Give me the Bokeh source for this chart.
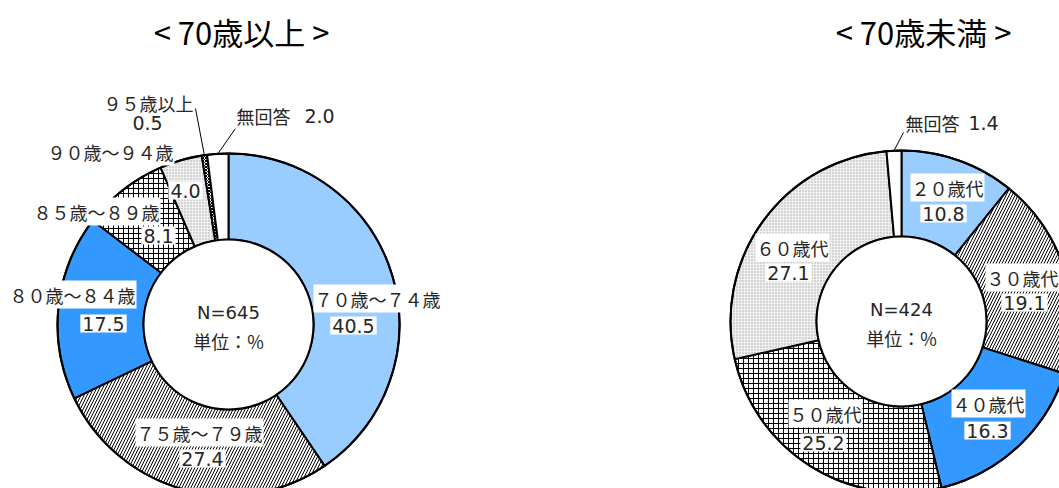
import math
from bokeh.plotting import figure
from bokeh.models import Range1d
from bokeh.core.properties import value
from bokeh.embed import file_html
from bokeh.resources import INLINE

# ---------------- data ----------------
left_title = "< 70歳以上 >"
left_n = "N=645"
left_labels = ["７０歳～７４歳", "７５歳～７９歳", "８０歳～８４歳", "８５歳～８９歳",
               "９０歳～９４歳", "９５歳以上", "無回答"]
left_values = [40.5, 27.4, 17.5, 8.1, 4.0, 0.5, 2.0]

right_title = "< 70歳未満 >"
right_n = "N=424"
right_labels = ["２０歳代", "３０歳代", "４０歳代", "５０歳代", "６０歳代", "無回答"]
right_values = [10.8, 19.1, 16.3, 25.2, 27.1, 1.4]

unit_text = "単位：%"

# ---------------- layout / styles ----------------
W, H = 1059, 488
FONT = "Noto Sans CJK JP"
NUMFONT = "DejaVu Sans"
R_OUT, R_IN = 171, 85
TXT = "#262626"

# style per slice: (fill_color, hatch_pattern, hatch_color, hatch_scale)
LIGHT = ("#99CCFF", None, None, None)
DIAG = ("white", "/", "black", 6)
BLUE = ("#3399FF", None, None, None)
GRID = ("white", "+", "black", 5)
DOTS = ("#F0F0F0", ".", "#A8A8A8", 3)
DENSE = ("white", "x", "black", 3)
BLANK = ("white", None, None, None)
left_styles = [LIGHT, DIAG, BLUE, GRID, DOTS, DENSE, BLANK]
right_styles = [LIGHT, DIAG, BLUE, GRID, DOTS, BLANK]

# label offsets (px, screen-down y) relative to donut centre: name line, value line
left_name_off = [(149, -26), (-29, 108), (-156, -30), (-132, -113), (-118, -173), (-80, -222), (35, -209)]
left_val_off = [(125, 1), (-26, 134), (-125, -1), (-70, -89), (-43, -134), (-81, -202), (91, -209)]
right_name_off = [(46, -134), (121, -44), (87, 82), (-76, 92), (-109, -74), (31, -199)]
right_val_off = [(42, -108), (123, -19), (86, 109), (-78, 121), (-113, -49), (82, -199)]

# leader line starts (offsets) for small slices: index -> start offset
left_leaders = {5: (-33, -216), 6: (7, -196)}
right_leaders = {5: (2, -189)}

p = figure(width=W, height=H, x_range=Range1d(0, W), y_range=Range1d(0, H),
           output_backend="svg", toolbar_location=None, min_border=0)
p.axis.visible = False
p.grid.visible = False
p.outline_line_color = None
p.background_fill_color = "white"
p.border_fill_color = "white"


def donut(cx, cy_px, title, title_x, ntext, labels, values, styles, name_off, val_off, leaders):
    cy = H - cy_px
    total = sum(values)
    cum = 0.0
    for i, (lab, v) in enumerate(zip(labels, values)):
        a0 = math.pi / 2 - 2 * math.pi * cum / total
        cum += v
        a1 = math.pi / 2 - 2 * math.pi * cum / total
        fill, hatch, hcol, hscale = styles[i]
        kw = dict(fill_color=fill, line_color="black", line_width=2)
        if hatch:
            kw.update(hatch_pattern=hatch, hatch_color=hcol, hatch_scale=hscale, hatch_weight=1)
        p.annular_wedge(x=cx, y=cy, inner_radius=R_IN, outer_radius=R_OUT,
                        start_angle=a0, end_angle=a1, direction="clock", **kw)
        if i in leaders:
            am = (a0 + a1) / 2
            ex = cx + R_OUT * math.cos(am)
            ey = cy + R_OUT * math.sin(am)
            sx, sy = leaders[i]
            p.segment(x0=cx + sx, y0=cy - sy, x1=ex, y1=ey, line_color="black", line_width=1)
    # outlines of rings
    p.circle(x=cx, y=cy, radius=R_OUT, fill_color=None, line_color="black", line_width=2)
    p.circle(x=cx, y=cy, radius=R_IN, fill_color="white", line_color="black", line_width=2)

    # labels
    for i, (lab, v) in enumerate(zip(labels, values)):
        nx, ny = name_off[i]
        vx, vy = val_off[i]
        p.text(x=[cx + nx], y=[cy - ny], text=[lab], text_align="center", text_baseline="middle",
               text_font=value(FONT), text_font_size="18px", text_color=TXT,
               background_fill_color="white", padding=1)
        p.text(x=[cx + vx], y=[cy - vy], text=[f"{v:.1f}"], text_align="center", text_baseline="middle",
               text_font=value(NUMFONT), text_font_size="19px", text_color=TXT,
               background_fill_color="white", padding=2)

    # centre texts
    p.text(x=[cx], y=[cy + 12], text=[ntext], text_align="center", text_baseline="middle",
           text_font=value(NUMFONT), text_font_size="18px", text_color=TXT)
    p.text(x=[cx], y=[cy - 16], text=[unit_text], text_align="center", text_baseline="middle",
           text_font=value(FONT), text_font_size="18px", text_color=TXT)
    # title
    p.text(x=[title_x], y=[H - 31], text=[title], text_align="center", text_baseline="middle",
           text_font=value(FONT), text_font_size="31px", text_color="black")


donut(228, 324, left_title, 241, left_n, left_labels, left_values, left_styles,
      left_name_off, left_val_off, left_leaders)
donut(901, 321, right_title, 923, right_n, right_labels, right_values, right_styles,
      right_name_off, right_val_off, right_leaders)

open("out.html", "w").write(file_html(p, INLINE))
